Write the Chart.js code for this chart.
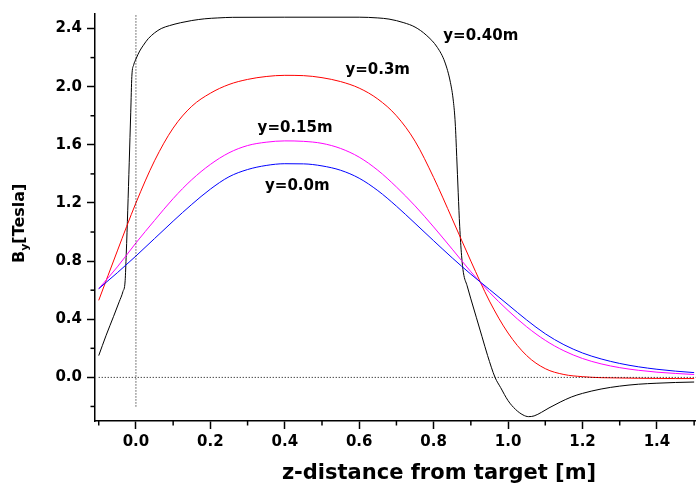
<!DOCTYPE html>
<html>
<head>
<meta charset="utf-8">
<script src="https://cdn.jsdelivr.net/npm/chart.js@4/dist/chart.umd.min.js"></script>
<style>
  html, body { margin: 0; padding: 0; background: #fff; }
  #wrap { width: 696px; height: 491px; }
</style>
</head>
<body>
<div id="wrap"><canvas id="c" width="696" height="491"></canvas></div>
<script>
// z positions (m) shared by the three smooth field profiles
const zGrid = [-0.1, -0.05, 0.0, 0.05, 0.1, 0.15, 0.2, 0.25, 0.3, 0.35, 0.4, 0.45, 0.5, 0.55, 0.6, 0.65,
               0.7, 0.75, 0.8, 0.85, 0.9, 0.95, 1.0, 1.05, 1.1, 1.15, 1.2, 1.25, 1.3, 1.35, 1.4, 1.45, 1.5];

// By [Tesla] at y = 0.0 m
const byY000 = [0.61, 0.72, 0.835, 0.955, 1.075, 1.19, 1.295, 1.38, 1.43, 1.458, 1.47, 1.469, 1.455, 1.425, 1.37, 1.285,
                1.178, 1.06, 0.94, 0.822, 0.71, 0.605, 0.50, 0.395, 0.30, 0.225, 0.168, 0.127, 0.096, 0.073, 0.056, 0.043, 0.033];
// By [Tesla] at y = 0.15 m
const byY015 = [0.61, 0.76, 0.925, 1.08, 1.23, 1.36, 1.465, 1.545, 1.595, 1.618, 1.627, 1.624, 1.61, 1.575, 1.515, 1.425,
                1.31, 1.18, 1.035, 0.882, 0.727, 0.585, 0.46, 0.348, 0.255, 0.183, 0.13, 0.093, 0.067, 0.049, 0.036, 0.027, 0.02];
// By [Tesla] at y = 0.3 m
const byY030 = [0.53, 0.87, 1.20, 1.49, 1.715, 1.865, 1.955, 2.015, 2.05, 2.07, 2.078, 2.076, 2.062, 2.035, 1.99, 1.915,
                1.80, 1.625, 1.375, 1.09, 0.80, 0.525, 0.305, 0.15, 0.06, 0.02, 0.005, -0.002, -0.004, -0.006, -0.007, -0.008, -0.008];

// y = 0.40 m profile, sampled more densely around the steep edges
const zY040 = [-0.1, -0.08, -0.06, -0.045, -0.035, -0.029, -0.026, -0.022, -0.018, -0.014, -0.011, -0.006, 0.0, 0.01, 0.02,
               0.033, 0.05, 0.068, 0.09, 0.12, 0.15, 0.185, 0.22, 0.26, 0.4, 0.6, 0.65, 0.68, 0.72, 0.75,
               0.78, 0.81, 0.83, 0.845, 0.853, 0.858, 0.862, 0.866, 0.87, 0.875, 0.88, 0.89, 0.9, 0.915, 0.93,
               0.945, 0.965, 0.98, 1.0, 1.02, 1.04, 1.055, 1.07, 1.09, 1.11, 1.14, 1.17, 1.2, 1.25, 1.3,
               1.35, 1.4, 1.45, 1.5];
const byY040 = [0.15, 0.29, 0.42, 0.52, 0.59, 0.665, 0.85, 1.15, 1.48, 1.82, 2.07, 2.15, 2.19, 2.245, 2.285,
                2.33, 2.37, 2.40, 2.42, 2.44, 2.455, 2.467, 2.473, 2.477, 2.478, 2.478, 2.473, 2.465, 2.44, 2.41,
                2.355, 2.27, 2.17, 2.03, 1.90, 1.75, 1.52, 1.27, 1.04, 0.84, 0.72, 0.63, 0.54, 0.41, 0.28,
                0.15, 0.0, -0.07, -0.16, -0.22, -0.258, -0.27, -0.265, -0.24, -0.21, -0.17, -0.135, -0.11, -0.08, -0.06,
                -0.047, -0.04, -0.035, -0.032];

// curve labels
const seriesNames = ['y=0.0m', 'y=0.15m', 'y=0.3m', 'y=0.40m'];

// axis ticks
const xMajor = [0.0, 0.2, 0.4, 0.6, 0.8, 1.0, 1.2, 1.4];
const xMinor = [-0.1, 0.1, 0.3, 0.5, 0.7, 0.9, 1.1, 1.3, 1.5];
const yMajor = [0.0, 0.4, 0.8, 1.2, 1.6, 2.0, 2.4];
const yMinor = [-0.2, 0.2, 0.6, 1.0, 1.4, 1.8, 2.2];

const pairs = (xs, ys) => xs.map((x, i) => ({ x: x, y: ys[i] }));

const FONT = "'DejaVu Sans', 'Liberation Sans', Arial, sans-serif";

const curve = (label, data, color) => ({
  label: label, data: data, borderColor: color, backgroundColor: color,
  borderWidth: 1, pointRadius: 0, fill: false, cubicInterpolationMode: 'monotone'
});
const refLine = (data) => ({
  label: '', data: data, borderColor: '#000', borderWidth: 1, borderDash: [1, 2],
  pointRadius: 0, fill: false, tension: 0
});

// curve names placed next to their curves, in data coordinates
const curveLabels = [
  { text: seriesNames[3], z: 0.826, b: 2.32 },
  { text: seriesNames[2], z: 0.563, b: 2.085 },
  { text: seriesNames[1], z: 0.327, b: 1.685 },
  { text: seriesNames[0], z: 0.347, b: 1.29 }
];

const decorations = {
  id: 'decorations',
  afterDraw(chart) {
    const { ctx, chartArea } = chart;
    const xs = chart.scales.x, ys = chart.scales.y;
    ctx.save();
    ctx.strokeStyle = '#000';
    ctx.lineWidth = 1.5;
    // minor tick marks
    xMinor.forEach(v => {
      const px = xs.getPixelForValue(v);
      ctx.beginPath(); ctx.moveTo(px, chartArea.bottom); ctx.lineTo(px, chartArea.bottom + 4.5); ctx.stroke();
    });
    yMinor.forEach(v => {
      const py = ys.getPixelForValue(v);
      ctx.beginPath(); ctx.moveTo(chartArea.left, py); ctx.lineTo(chartArea.left - 4.5, py); ctx.stroke();
    });

    // curve labels
    ctx.fillStyle = '#000';
    ctx.font = 'bold 15px ' + FONT;
    ctx.textAlign = 'left';
    ctx.textBaseline = 'alphabetic';
    curveLabels.forEach(l => ctx.fillText(l.text, xs.getPixelForValue(l.z), ys.getPixelForValue(l.b)));

    // x axis title
    ctx.font = 'bold 21px ' + FONT;
    ctx.textAlign = 'center';
    ctx.fillText('z-distance from target [m]', 439, 479);

    // y axis title with subscript
    ctx.translate(24, 263);
    ctx.rotate(-Math.PI / 2);
    ctx.textAlign = 'left';
    ctx.font = 'bold 16px ' + FONT;
    ctx.fillText('B', 0, 0);
    let w = ctx.measureText('B').width;
    ctx.font = 'bold 11px ' + FONT;
    ctx.fillText('y', w, 4);
    w += ctx.measureText('y').width;
    ctx.font = 'bold 16px ' + FONT;
    ctx.fillText('[Tesla]', w, 0);
    ctx.restore();
  }
};

new Chart(document.getElementById('c'), {
  type: 'line',
  data: {
    datasets: [
      refLine([{ x: 0, y: -0.2 }, { x: 0, y: 2.5 }]),
      refLine([{ x: -0.1, y: 0 }, { x: 1.505, y: 0 }]),
      curve(seriesNames[0], pairs(zGrid, byY000), '#0000ff'),
      curve(seriesNames[1], pairs(zGrid, byY015), '#ff00ff'),
      curve(seriesNames[2], pairs(zGrid, byY030), '#ff0000'),
      curve(seriesNames[3], pairs(zY040, byY040), '#000000')
    ]
  },
  options: {
    responsive: false,
    animation: false,
    layout: { padding: { top: 12, right: 0, left: 0, bottom: 0 } },
    plugins: { legend: { display: false }, tooltip: { enabled: false }, title: { display: false } },
    scales: {
      x: {
        type: 'linear', min: -0.11, max: 1.505,
        afterBuildTicks: s => { s.ticks = xMajor.map(v => ({ value: v })); },
        afterFit: s => { s.height = 70; },
        grid: { display: true, drawOnChartArea: false, drawTicks: true, tickLength: 8, color: '#000', tickWidth: 1.5 },
        border: { display: true, color: '#000', width: 1.5 },
        ticks: {
          color: '#000', padding: 4, maxRotation: 0, autoSkip: false,
          font: { family: FONT, size: 15, weight: 'bold' },
          callback: v => Number(v).toFixed(1)
        }
      },
      y: {
        type: 'linear', min: -0.3, max: 2.5,
        afterBuildTicks: s => { s.ticks = yMajor.map(v => ({ value: v })); },
        afterFit: s => { s.width = 95; },
        grid: { display: true, drawOnChartArea: false, drawTicks: true, tickLength: 8, color: '#000', tickWidth: 1.5 },
        border: { display: true, color: '#000', width: 1.5 },
        ticks: {
          color: '#000', padding: 5, autoSkip: false,
          font: { family: FONT, size: 15, weight: 'bold' },
          callback: v => Number(v).toFixed(1)
        }
      }
    }
  },
  plugins: [decorations]
});
</script>
</body>
</html>
